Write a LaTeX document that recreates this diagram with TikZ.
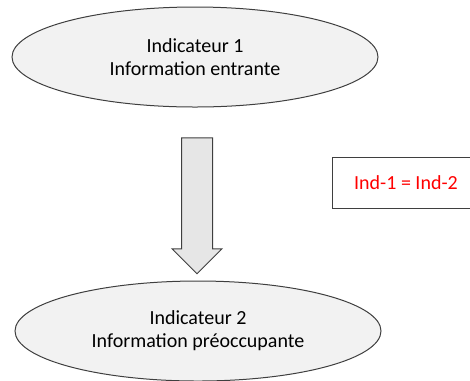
\documentclass[tikz,border=0pt]{standalone}
\usepackage{fontspec}
\setmainfont{Carlito}
\usepackage{tikz}
\usetikzlibrary{positioning,shapes.geometric,shapes.arrows}
\usepackage{xcolor}

\definecolor{bordgris}{HTML}{3F3F3F}
\definecolor{fondgris}{HTML}{F2F2F2}
\definecolor{rougeind}{HTML}{FF0000}

\begin{document}
\begin{tikzpicture}[x=0.75pt,y=-0.75pt,
    indic/.style={ellipse,draw=bordgris,fill=fondgris,line width=0.75pt,
        minimum width=274.5pt,minimum height=75pt,align=center,
        font=\fontsize{15}{17.3}\selectfont},
    fleche/.style={single arrow,draw=bordgris,fill=fondgris!95!black,line width=0.75pt,
        minimum height=102pt,inner xsep=0pt,inner ysep=11.25pt,
        single arrow head extend=7.1pt,single arrow head indent=0pt,rotate=-90},
    egalite/.style={rectangle,draw=bordgris,line width=0.75pt,text=rougeind,
        minimum width=111pt,minimum height=38.25pt,
        font=\fontsize{15}{17.3}\selectfont}
    ]
\clip (0,0) rectangle (470,380);
% les deux indicateurs
\node[indic] (ind1) at (195,57) {Indicateur 1\\Information entrante};
\node[indic] (ind2) at (198,331) {Indicateur 2\\Information préoccupante};
% passage de l'un a l'autre
\node[fleche] (passage) at (197,198) {};
% condition
\node[egalite] (cond) at (406,182.5) {Ind-1 = Ind-2};
\end{tikzpicture}
\end{document}
